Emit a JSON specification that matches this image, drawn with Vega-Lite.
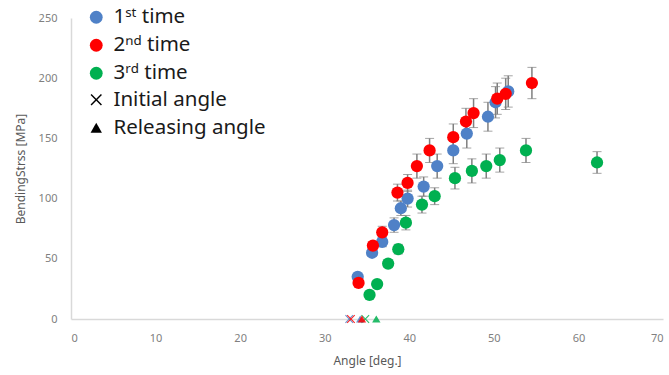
{
  "$schema": "https://vega.github.io/schema/vega-lite/v6.json",
  "width": 592,
  "height": 301,
  "autosize": {"type": "none"},
  "padding": {"left": 71, "top": 18, "right": 6, "bottom": 56},
  "background": "white",
  "config": {
    "view": {"stroke": null},
    "font": "Noto Sans",
    "axis": {
      "domainColor": "#d9d9d9",
      "domainWidth": 1.5,
      "ticks": false,
      "grid": false,
      "labelColor": "#808080",
      "labelFontSize": 11,
      "titleColor": "#595959",
      "titleFontSize": 12,
      "titleFontWeight": "normal"
    }
  },
  "datasets": {
    "pts": [
      {"trial": "1ˢᵗ time", "angle": 33.9, "stress": 35, "err": 2},
      {"trial": "1ˢᵗ time", "angle": 35.6, "stress": 55, "err": 3},
      {"trial": "1ˢᵗ time", "angle": 36.8, "stress": 64, "err": 4},
      {"trial": "1ˢᵗ time", "angle": 38.2, "stress": 78, "err": 6},
      {"trial": "1ˢᵗ time", "angle": 39.0, "stress": 92, "err": 6},
      {"trial": "1ˢᵗ time", "angle": 39.8, "stress": 100, "err": 7},
      {"trial": "1ˢᵗ time", "angle": 41.7, "stress": 110, "err": 8},
      {"trial": "1ˢᵗ time", "angle": 43.3, "stress": 127, "err": 10},
      {"trial": "1ˢᵗ time", "angle": 45.2, "stress": 140, "err": 11},
      {"trial": "1ˢᵗ time", "angle": 46.8, "stress": 154, "err": 12},
      {"trial": "1ˢᵗ time", "angle": 49.3, "stress": 168, "err": 12},
      {"trial": "1ˢᵗ time", "angle": 50.2, "stress": 180, "err": 13},
      {"trial": "1ˢᵗ time", "angle": 51.7, "stress": 189, "err": 13},
      {"trial": "2ⁿᵈ time", "angle": 34.0, "stress": 30, "err": 2},
      {"trial": "2ⁿᵈ time", "angle": 35.7, "stress": 61, "err": 3},
      {"trial": "2ⁿᵈ time", "angle": 36.8, "stress": 72, "err": 5},
      {"trial": "2ⁿᵈ time", "angle": 38.6, "stress": 105, "err": 7},
      {"trial": "2ⁿᵈ time", "angle": 39.8, "stress": 113, "err": 7},
      {"trial": "2ⁿᵈ time", "angle": 40.9, "stress": 127, "err": 10},
      {"trial": "2ⁿᵈ time", "angle": 42.4, "stress": 140, "err": 10},
      {"trial": "2ⁿᵈ time", "angle": 45.2, "stress": 151, "err": 11},
      {"trial": "2ⁿᵈ time", "angle": 46.7, "stress": 164, "err": 11},
      {"trial": "2ⁿᵈ time", "angle": 47.6, "stress": 171, "err": 12},
      {"trial": "2ⁿᵈ time", "angle": 50.4, "stress": 183, "err": 13},
      {"trial": "2ⁿᵈ time", "angle": 51.4, "stress": 187, "err": 13},
      {"trial": "2ⁿᵈ time", "angle": 54.5, "stress": 196, "err": 13},
      {"trial": "3ʳᵈ time", "angle": 35.3, "stress": 20, "err": 2},
      {"trial": "3ʳᵈ time", "angle": 36.2, "stress": 29, "err": 2},
      {"trial": "3ʳᵈ time", "angle": 37.5, "stress": 46, "err": 3},
      {"trial": "3ʳᵈ time", "angle": 38.7, "stress": 58, "err": 4},
      {"trial": "3ʳᵈ time", "angle": 39.6, "stress": 80, "err": 6},
      {"trial": "3ʳᵈ time", "angle": 41.5, "stress": 95, "err": 7},
      {"trial": "3ʳᵈ time", "angle": 43.0, "stress": 102, "err": 7},
      {"trial": "3ʳᵈ time", "angle": 45.4, "stress": 117, "err": 9},
      {"trial": "3ʳᵈ time", "angle": 47.4, "stress": 123, "err": 10},
      {"trial": "3ʳᵈ time", "angle": 49.1, "stress": 127, "err": 10},
      {"trial": "3ʳᵈ time", "angle": 50.7, "stress": 132, "err": 10},
      {"trial": "3ʳᵈ time", "angle": 53.8, "stress": 140, "err": 10},
      {"trial": "3ʳᵈ time", "angle": 62.2, "stress": 130, "err": 9}
    ],
    "marks": [
      {"trial": "1ˢᵗ time", "kind": "Initial angle", "angle": 32.9, "stress": 0},
      {"trial": "2ⁿᵈ time", "kind": "Initial angle", "angle": 33.1, "stress": 0},
      {"trial": "3ʳᵈ time", "kind": "Initial angle", "angle": 34.8, "stress": 0},
      {"trial": "1ˢᵗ time", "kind": "Releasing angle", "angle": 34.2, "stress": 0},
      {"trial": "2ⁿᵈ time", "kind": "Releasing angle", "angle": 34.4, "stress": 0},
      {"trial": "3ʳᵈ time", "kind": "Releasing angle", "angle": 36.1, "stress": 0}
    ]
  },
  "encoding": {
    "x": {
      "field": "angle",
      "type": "quantitative",
      "scale": {"domain": [0, 70], "nice": false},
      "axis": {"values": [0, 10, 20, 30, 40, 50, 60, 70], "title": "Angle [deg.]", "labelPadding": 13, "titlePadding": 12}
    },
    "y": {
      "field": "stress",
      "type": "quantitative",
      "scale": {"domain": [0, 250], "nice": false},
      "axis": {"values": [0, 50, 100, 150, 200, 250], "title": "BendingStrss [MPa]", "labelPadding": 14, "titlePadding": 11}
    }
  },
  "layer": [
    {
      "data": {"name": "pts"},
      "mark": {"type": "errorbar", "ticks": {"size": 9, "color": "#7f7f7f", "strokeWidth": 1.5}, "rule": {"color": "#7f7f7f", "strokeWidth": 1.5}},
      "encoding": {"yError": {"field": "err"}}
    },
    {
      "data": {"name": "pts"},
      "mark": {"type": "point", "filled": true, "size": 150, "opacity": 1},
      "encoding": {
        "color": {
          "field": "trial",
          "type": "nominal",
          "scale": {"domain": ["1ˢᵗ time", "2ⁿᵈ time", "3ʳᵈ time"], "range": ["#4f81c7", "#ff0000", "#00b050"]},
          "legend": {
            "title": null,
            "orient": "none",
            "legendX": 15,
            "legendY": -11,
            "symbolType": "circle",
            "symbolSize": 165,
            "labelFont": "Noto Sans",
            "labelFontSize": 20.5,
            "labelColor": "#1a1a1a",
            "labelOffset": 7,
            "rowPadding": 7,
            "padding": 0
          }
        }
      }
    },
    {
      "data": {"name": "marks"},
      "mark": {"type": "point", "filled": true, "size": 70, "opacity": 0.85},
      "encoding": {
        "color": {"field": "trial", "type": "nominal"},
        "shape": {
          "field": "kind",
          "type": "nominal",
          "scale": {
            "domain": ["Initial angle", "Releasing angle"],
            "range": ["M-1,-0.82L-0.82,-1L0,-0.18L0.82,-1L1,-0.82L0.18,0L1,0.82L0.82,1L0,0.18L-0.82,1L-1,0.82L-0.18,0Z", "triangle-up"]
          },
          "legend": {
            "title": null,
            "orient": "none",
            "legendX": 15,
            "legendY": 71.5,
            "symbolSize": 130,
            "symbolFillColor": "black",
            "symbolStrokeColor": "black",
            "symbolStrokeWidth": 0,
            "labelFont": "Noto Sans",
            "labelFontSize": 20.5,
            "labelColor": "#1a1a1a",
            "labelOffset": 7,
            "rowPadding": 7,
            "padding": 0,
            "symbolOpacity": 1
          }
        }
      }
    }
  ]
}
